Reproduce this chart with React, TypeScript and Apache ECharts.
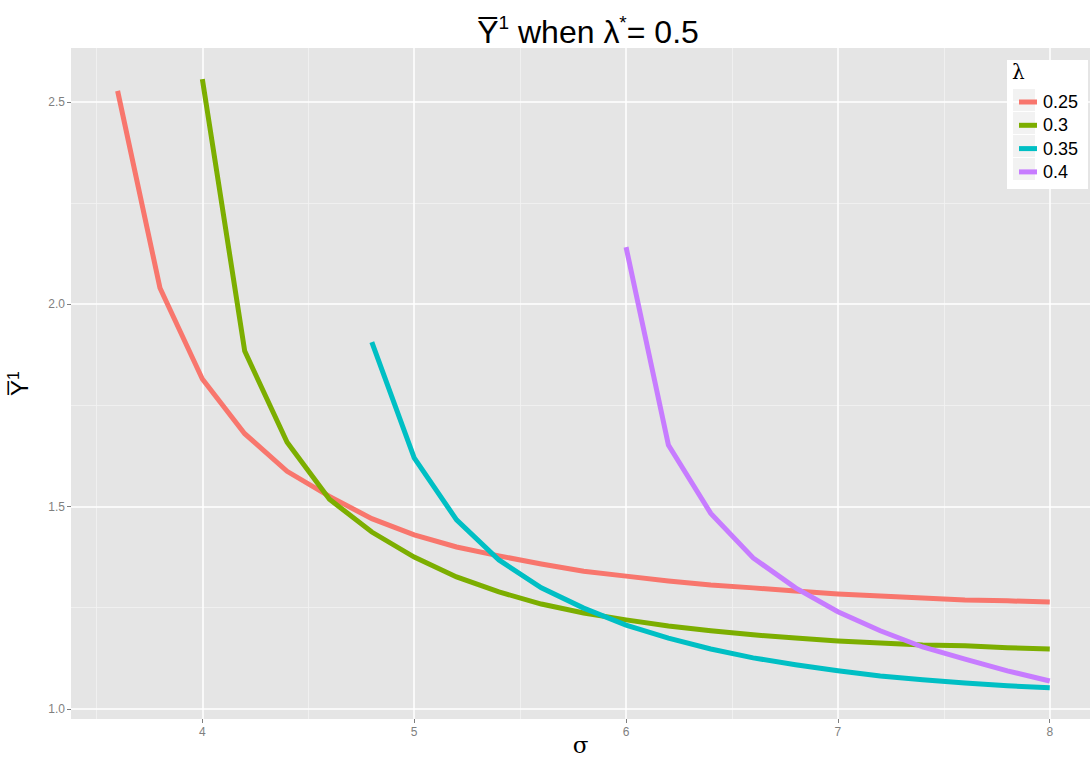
import React, { useEffect, useRef } from "react";
import * as echarts from "echarts";

// σ grid shared by all curves (each curve covers a tail of it)
const sigma = [3.6, 3.8, 4.0, 4.2, 4.4, 4.6, 4.8, 5.0, 5.2, 5.4, 5.6, 5.8, 6.0, 6.2, 6.4, 6.6, 6.8, 7.0, 7.2, 7.4, 7.6, 7.8, 8.0];

const lambdaNames = ["0.25", "0.3", "0.35", "0.4"];
const colors = ["#F8766D", "#7CAE00", "#00BFC4", "#C77CFF"];

const y025 = [2.527, 2.04, 1.815, 1.68, 1.587, 1.525, 1.47, 1.43, 1.4, 1.378, 1.358, 1.34, 1.328, 1.316, 1.306, 1.299, 1.291, 1.284, 1.279, 1.274, 1.269, 1.267, 1.264];
const y03 = [2.556, 1.884, 1.659, 1.518, 1.437, 1.375, 1.326, 1.289, 1.259, 1.237, 1.22, 1.205, 1.193, 1.183, 1.175, 1.168, 1.163, 1.158, 1.156, 1.151, 1.148];
const y035 = [1.906, 1.62, 1.467, 1.368, 1.299, 1.249, 1.207, 1.175, 1.148, 1.126, 1.109, 1.094, 1.081, 1.072, 1.064, 1.057, 1.052];
const y04 = [2.141, 1.652, 1.483, 1.373, 1.299, 1.24, 1.193, 1.153, 1.123, 1.094, 1.069];

const xTicks = [4, 5, 6, 7, 8];
const xMinor = [3.5, 4.5, 5.5, 6.5, 7.5];
const yTicks = [1.0, 1.5, 2.0, 2.5];
const yMinor = [1.25, 1.75, 2.25];

const X_MIN = 3.38;
const X_MAX = 8.19;
const Y_MIN = 0.975;
const Y_MAX = 2.633;

function pairs(values: number[]) {
  const xs = sigma.slice(sigma.length - values.length);
  return values.map((v, i) => [xs[i], v]);
}

export default function App() {
  const ref = useRef<HTMLDivElement>(null);

  useEffect(() => {
    if (!ref.current) return;
    const chart = echarts.init(ref.current, null, { renderer: "svg" });
    const allY = [y025, y03, y035, y04];

    const minorStyle = { color: "#F2F2F2", width: 0.8, type: "solid" };
    const majorStyle = { color: "#FFFFFF", width: 1.5, type: "solid" };
    const gridLines = [
      ...xMinor.map((v) => ({ xAxis: v, lineStyle: minorStyle })),
      ...yMinor.map((v) => ({ yAxis: v, lineStyle: minorStyle })),
      ...xTicks.map((v) => ({ xAxis: v, lineStyle: majorStyle })),
      ...yTicks.map((v) => ({ yAxis: v, lineStyle: majorStyle })),
    ];

    chart.setOption({
      animation: false,
      backgroundColor: "#FFFFFF",
      title: {
        text: "Y\u0305{sup|1} when λ{sup|*}= 0.5",
        left: 583,
        textAlign: "center",
        top: 8,
        textStyle: {
          fontFamily: "Liberation Sans",
          fontSize: 32,
          fontWeight: "normal",
          color: "#000000",
          rich: {
            sup: { fontSize: 19, verticalAlign: "top", padding: [0, 0, 18, 0], fontFamily: "Liberation Sans" },
          },
        },
      },
      grid: {
        left: 71,
        right: 2,
        top: 48,
        bottom: 44,
        outerBoundsMode: "none",
        containLabel: false,
        show: true,
        backgroundColor: "#E5E5E5",
        borderWidth: 0,
      },
      legend: {
        orient: "vertical",
        left: 1014,
        top: 88,
        icon: "rect",
        itemWidth: 18,
        itemHeight: 5,
        itemGap: 5.3,
        data: lambdaNames,
        lineStyle: { width: 0, opacity: 0 },
        textStyle: { fontFamily: "Liberation Sans", fontSize: 18, color: "#000000", padding: [0, 0, 0, 1] },
      },
      graphic: [
        { type: "rect", z: 0, shape: { x: 1007, y: 60, width: 81, height: 129 }, style: { fill: "#FFFFFF" } },
        ...lambdaNames.map((_, i) => ({
          type: "rect",
          z: 1,
          shape: { x: 1013, y: 89 + i * 23, width: 22, height: 22 },
          style: { fill: "#F2F2F2" },
        })),
        {
          type: "text",
          z: 2,
          left: 1012,
          top: 62,
          style: { text: "λ", font: "20px 'DejaVu Serif'", fill: "#000000" },
        },
      ],
      xAxis: {
        type: "value",
        min: X_MIN,
        max: X_MAX,
        name: "σ",
        nameLocation: "middle",
        nameGap: 14,
        nameMoveOverlap: false,
        nameTextStyle: { fontFamily: "DejaVu Serif", fontSize: 23, color: "#000000", lineHeight: 24 },
        axisLine: { show: false },
        splitLine: { show: false },
        axisTick: { show: true, length: 4, customValues: xTicks, lineStyle: { color: "#7F7F7F" } },
        axisLabel: {
          customValues: xTicks,
          color: "#7F7F7F",
          fontSize: 12,
          fontFamily: "Liberation Sans",
          margin: 7,
          formatter: (v: number) => String(v),
        },
      },
      yAxis: {
        type: "value",
        min: Y_MIN,
        max: Y_MAX,
        name: "Y\u0305{sup|1}",
        nameLocation: "middle",
        nameRotate: 90,
        nameGap: 38,
        nameMoveOverlap: false,
        nameTextStyle: {
          fontFamily: "Liberation Sans",
          fontSize: 24,
          color: "#000000",
          rich: { sup: { fontSize: 16, verticalAlign: "top", padding: [0, 0, 12, 0] } },
        },
        axisLine: { show: false },
        splitLine: { show: false },
        axisTick: { show: true, length: 4, customValues: yTicks, lineStyle: { color: "#7F7F7F" } },
        axisLabel: {
          customValues: yTicks,
          color: "#7F7F7F",
          fontSize: 12,
          fontFamily: "Liberation Sans",
          margin: 6,
          formatter: (v: number) => v.toFixed(1),
        },
      },
      series: [
        {
          type: "line",
          name: "__grid",
          data: [],
          z: 1,
          silent: true,
          markLine: { silent: true, z: 1, symbol: "none", label: { show: false }, data: gridLines },
        },
        ...allY.map((vals, i) => ({
          type: "line",
          name: lambdaNames[i],
          data: pairs(vals),
          z: 10,
          showSymbol: false,
          symbol: "none",
          color: colors[i],
          lineStyle: { width: 5, color: colors[i], cap: "butt", join: "miter" },
        })),
      ],
    });
    return () => chart.dispose();
  }, []);

  return <div ref={ref} style={{ position: "absolute", left: 0, top: 0, width: 1092, height: 763 }} />;
}
